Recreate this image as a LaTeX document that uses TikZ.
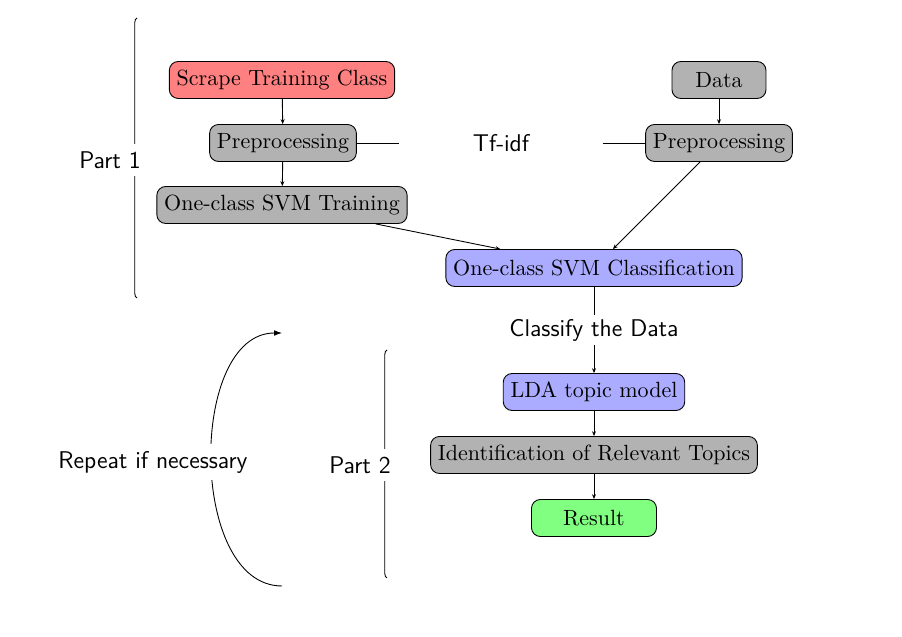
\documentclass[tikz,border=0pt]{standalone}
\usetikzlibrary{arrows.meta,decorations.pathreplacing}
\begin{document}
\begin{tikzpicture}[x=0.4545pt,y=-0.4545pt,
  box/.style={draw,rounded corners=4pt,inner sep=3.33pt,minimum height=16.8pt},
  redbox/.style={box,fill=red!50},
  graybox/.style={box,fill=gray!60},
  bluebox/.style={box,fill=blue!33},
  greenbox/.style={box,fill=green!50},
  lbl/.style={font=\sffamily\fontsize{11}{13}\selectfont},
  sarrow/.style={-{Stealth[length=2.2pt,width=1.8pt]}},
  brc/.style={decorate,decoration={brace,amplitude=2pt}}]
\useasboundingbox (0,0) rectangle (902,637);
% Part 1
\node[redbox] (scrape) at (282,80) {Scrape Training Class};
\node[graybox] (pre1) at (283,143) {Preprocessing};
\node[graybox] (train) at (282,205) {One-class SVM Training};
\node[graybox,minimum width=42.7pt] (data) at (719,80) {Data};
\node[graybox] (pre2) at (719,143) {Preprocessing};
\node[lbl,inner sep=0pt,minimum width=92.3pt,minimum height=10pt] (tfidf) at (501,143) {Tf-idf};
\node[bluebox] (cls) at (594,268) {One-class SVM Classification};
% Part 2
\node[lbl,inner sep=0pt,minimum height=13.2pt] (classify) at (594,330) {Classify the Data};
\node[bluebox] (lda) at (594,392) {LDA topic model};
\node[graybox] (ident) at (594,455) {Identification of Relevant Topics};
\node[greenbox,minimum width=56.8pt] (res) at (594,518) {Result};
% connectors
\draw[sarrow] (scrape) -- (pre1);
\draw[sarrow] (pre1) -- (train);
\draw[sarrow] (data) -- (pre2);
\draw (pre1) -- (tfidf);
\draw (tfidf) -- (pre2);
\draw[sarrow] (train) -- (cls);
\draw[sarrow] (pre2) -- (cls);
\draw (cls) -- (classify);
\draw[sarrow] (classify) -- (lda);
\draw[sarrow] (lda) -- (ident);
\draw[sarrow] (ident) -- (res);
% braces
\coordinate (b1s) at (137,298);
\coordinate (b1e) at (137,18);
\draw[brc] (b1s) -- (b1e);
\node[lbl,fill=white] (part1) at (110,160) {Part 1};
\coordinate (b2s) at (387,578);
\coordinate (b2e) at (387,350);
\draw[brc] (b2s) -- (b2e);
\node[lbl,fill=white] (part2) at (360,465) {Part 2};
% repeat arrow
\coordinate (rs) at (282,586);
\coordinate (re) at (282,333);
\draw[-{Latex[length=3.6pt,width=2.6pt]}] (rs) to[out=180,in=180,looseness=0.95] (re);
\node[lbl,fill=white] (repeat) at (153,462) {Repeat if necessary};
\end{tikzpicture}
\end{document}
